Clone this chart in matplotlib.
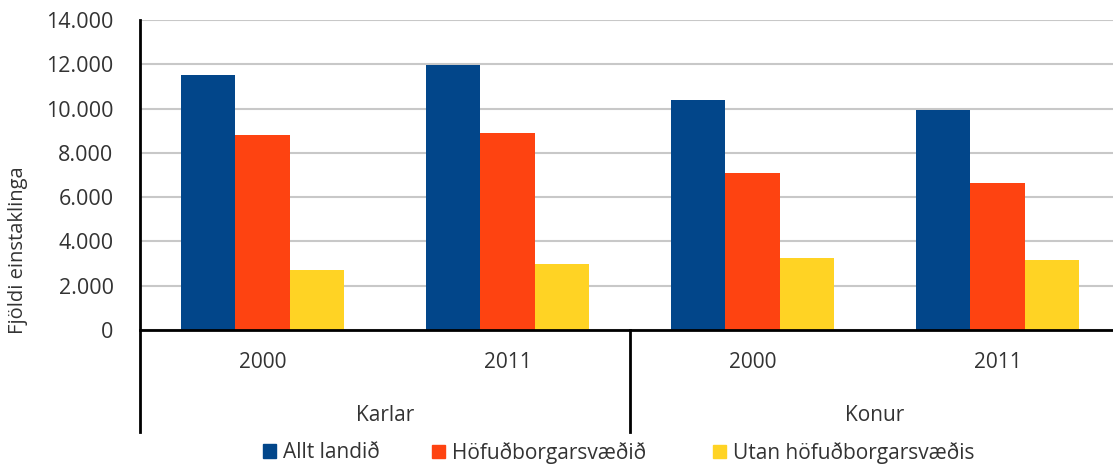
import matplotlib.pyplot as plt
import matplotlib.transforms as mtransforms
import matplotlib.patches as mpatches
import numpy as np

plt.rcParams['font.family'] = ['Open Sans', 'DejaVu Sans']

years = ['2000', '2011', '2000', '2011']
groups = ['Karlar', 'Konur']
series = ['Allt landið', 'Höfuðborgarsvæðið', 'Utan höfuðborgarsvæðis']
allt = [11500, 11950, 10400, 9950]
hofud = [8800, 8900, 7100, 6650]
utan = [2700, 3000, 3250, 3150]
colors = ['#02468A', '#FE4311', '#FFD324']
txt = '#333333'

fig = plt.figure(figsize=(11.13, 4.67), dpi=100)
ax = fig.add_axes([140 / 1113, 137 / 467, 980 / 1113, 310 / 467])

x = np.arange(len(years))
w = 0.222
for i, vals in enumerate([allt, hofud, utan]):
    ax.bar(x + (i - 1) * w, vals, w, color=colors[i], zorder=3)

ax.set_xlim(-0.5, 3.5)
ax.set_ylim(0, 14000)
ax.set_yticks(range(0, 14001, 2000))
ax.set_yticklabels([f'{v:,}'.replace(',', '.') for v in range(0, 14001, 2000)])
ax.tick_params(axis='y', length=0, pad=19, labelsize=15.5, labelcolor=txt)
ax.set_xticks([])
ax.grid(axis='y', color='#c8c8c8', linewidth=1.5, zorder=0)

for s in ['top', 'right']:
    ax.spines[s].set_visible(False)
for s in ['left', 'bottom']:
    ax.spines[s].set_linewidth(2)
    ax.spines[s].set_zorder(4)

fig.text(18 / 1113, 1 - 250 / 467, 'Fjöldi einstaklinga', rotation=90,
         ha='center', va='center', fontsize=14.5, color=txt)

# two level category axis
trans = mtransforms.blended_transform_factory(ax.transData, ax.transAxes)
for xi, yr in zip(x, years):
    ax.text(xi, -0.105, yr, transform=trans, ha='center', va='center',
            fontsize=15, color=txt)
for gi, g in enumerate(groups):
    ax.text(gi * 2 + 0.5, -0.275, g, transform=trans, ha='center', va='center',
            fontsize=15, color=txt)
for xs in [-0.5, 1.5, 3.5]:
    ax.plot([xs, xs], [0, -0.33], transform=trans, color='black',
            linewidth=2, clip_on=False, zorder=5)

# legend entries, spaced like the original
leg_x = [263, 432, 713]
for lx, name, c in zip(leg_x, series, colors):
    h = mpatches.Patch(color=c, label=name)
    fig.legend(handles=[h], loc='center left', bbox_to_anchor=(lx / 1113, 1 - 453 / 467),
               frameon=False, fontsize=15, handlelength=0.62, handleheight=0.62,
               handletextpad=0.35, borderpad=0, borderaxespad=0, labelcolor=txt)

fig.savefig('out.png', dpi=100)
